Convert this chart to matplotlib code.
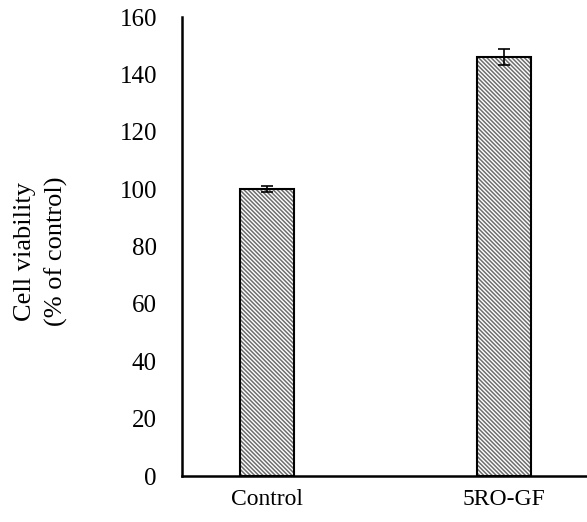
import matplotlib.pyplot as plt

plt.rcParams['font.family'] = ['Liberation Serif', 'DejaVu Serif']
plt.rcParams['hatch.linewidth'] = 1.1

groups = ['Control', '5RO-GF']
viability = [100, 146]
errors = [1, 2.8]

fig = plt.figure(figsize=(5.87, 5.22), dpi=100)
ax = fig.add_axes([0.310, 0.088, 0.690, 0.879])

x = list(range(len(groups)))
# hatch fill in grey, then the black outline on top
ax.bar(x, viability, width=0.23, color='white', edgecolor='#6e6e6e',
       hatch='\\' * 8, linewidth=0)
ax.bar(x, viability, width=0.23, fill=False, edgecolor='black', linewidth=1.5)
ax.errorbar(x, viability, yerr=errors, fmt='none', ecolor='black',
            elinewidth=1.2, capsize=4, capthick=1.2)

ax.set_xlim(-0.36, 1.35)
ax.set_ylim(0, 160)
ax.set_yticks(range(0, 161, 20))
ax.set_xticks(x)
ax.set_xticklabels(groups)
ax.tick_params(axis='y', length=0, labelsize=18, pad=18)
ax.tick_params(axis='x', length=0, labelsize=17, pad=9)
ax.spines['top'].set_visible(False)
ax.spines['right'].set_visible(False)
ax.spines['left'].set_linewidth(1.8)
ax.spines['bottom'].set_linewidth(1.8)
fig.text(0.070, 0.519, 'Cell viability\n(% of control)', rotation=90,
         ha='center', va='center', fontsize=19, linespacing=1.45)

fig.savefig('out.png', dpi=100)
